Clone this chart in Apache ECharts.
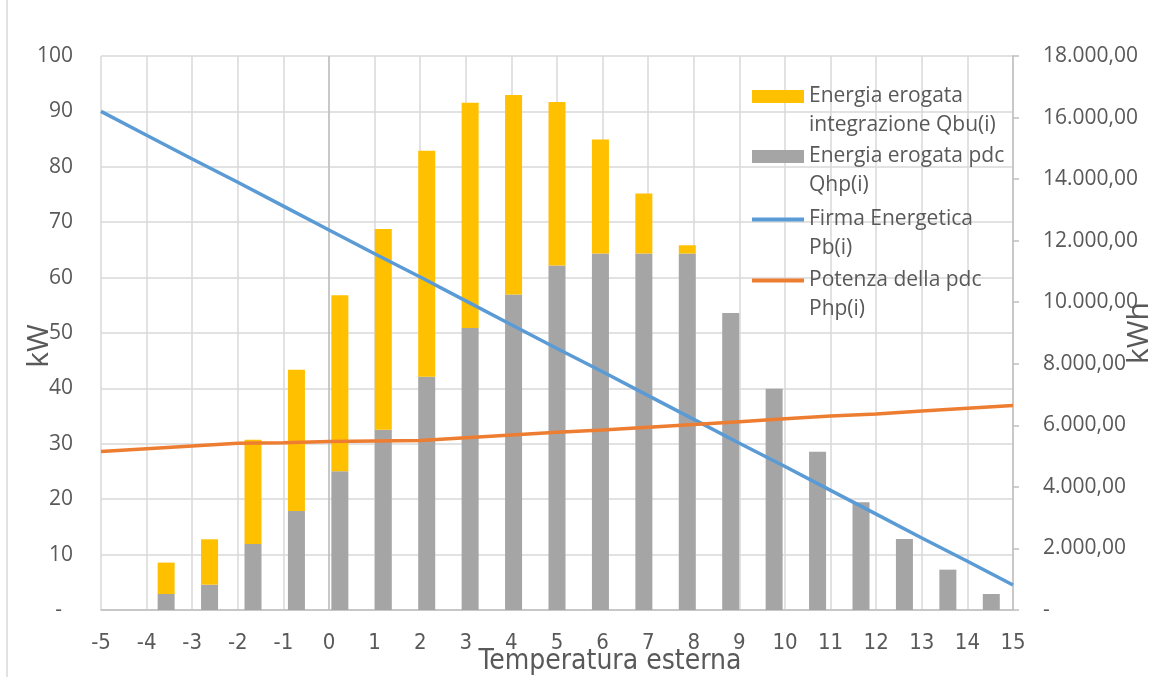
<!DOCTYPE html>
<html>
<head>
<meta charset="utf-8">
<script src="https://cdn.jsdelivr.net/npm/echarts@6/dist/echarts.min.js"></script>
<style>
  html, body { margin: 0; padding: 0; background: #fff; }
  #chart { width: 1156px; height: 677px; }
</style>
</head>
<body>
<div id="chart"></div>
<script>
// temperature axis (°C) for the two power lines
const temperatures = [-5, -4, -3, -2, -1, 0, 1, 2, 3, 4, 5, 6, 7, 8, 9, 10, 11, 12, 13, 14, 15];
// kW
const firmaEnergetica = [90, 85.7, 81.4, 77.2, 72.9, 68.6, 64.3, 60.1, 55.8, 51.5, 47.2, 43.0, 38.7, 34.4, 30.1, 25.9, 21.6, 17.3, 13.0, 8.8, 4.5];
const potenzaPdc = [28.6, 29.1, 29.6, 30.1, 30.2, 30.4, 30.5, 30.6, 31.1, 31.6, 32.1, 32.5, 33.0, 33.5, 34.0, 34.5, 35.0, 35.4, 35.9, 36.4, 36.9];

// energy bins (kWh), 21 bins over the same span
const bins = ['b0', 'b1', 'b2', 'b3', 'b4', 'b5', 'b6', 'b7', 'b8', 'b9', 'b10',
  'b11', 'b12', 'b13', 'b14', 'b15', 'b16', 'b17', 'b18', 'b19', 'b20'];
const energiaPdc = [0, 520, 823, 2147, 3220, 4509, 5856, 7580, 9162, 10248, 11191,
  11581, 11581, 11581, 9649, 7190, 5140, 3500, 2310, 1311, 520];
const energiaIntegrazione = [0, 1020, 1474, 3383, 4588, 5715, 6524, 7338, 7319, 6483, 5313,
  3709, 1952, 270, 0, 0, 0, 0, 0, 0, 0];

const NAME_QBU = 'Energia erogata\nintegrazione Qbu(i)';
const NAME_QHP = 'Energia erogata pdc\nQhp(i)';
const NAME_PB = 'Firma Energetica\nPb(i)';
const NAME_PHP = 'Potenza della pdc\nPhp(i)';

const txt = '#595959';
const font = 'Open Sans';
const narrow = "'Liberation Sans Narrow', 'DejaVu Sans Condensed', 'Open Sans', sans-serif";

function formatIt(v) {
  if (v === 0) return '-';
  const parts = v.toFixed(2).split('.');
  return parts[0].replace(/\B(?=(\d{3})+(?!\d))/g, '.') + ',' + parts[1];
}

function legendFor(name, top, h) {
  return {
    data: [name],
    left: 752,
    top: top,
    padding: 0,
    orient: 'vertical',
    itemWidth: 52,
    itemHeight: h,
    icon: 'rect',
    selectedMode: false,
    // leading empty line keeps the first text line level with the icon
    formatter: n => '\n' + n,
    textStyle: { fontFamily: font, fontSize: 21, color: txt, lineHeight: 29 }
  };
}

const chart = echarts.init(document.getElementById('chart'));

chart.setOption({
  animation: false,
  backgroundColor: '#fff',
  grid: { left: 101, right: 143, top: 56, bottom: 67, outerBoundsMode: 'none', containLabel: false },
  legend: [
    legendFor(NAME_QBU, 53, 13),
    legendFor(NAME_QHP, 113, 13),
    legendFor(NAME_PB, 176, 4),
    legendFor(NAME_PHP, 237, 4)
  ],
  xAxis: [
    {
      type: 'value', min: -5, max: 15, interval: 1,
      axisLine: { lineStyle: { color: '#bfbfbf', width: 1.5 } },
      axisTick: { show: false },
      axisLabel: { margin: 22, color: txt, fontFamily: narrow, fontSize: 22 },
      splitLine: { show: true, lineStyle: { color: '#d9d9d9', width: 1.5 } },
      name: 'Temperatura esterna', nameLocation: 'middle', nameGap: 38, nameMoveOverlap: false,
      nameTextStyle: { color: txt, fontFamily: narrow, fontSize: 28, padding: [0, 0, 0, 106] }
    },
    { type: 'category', data: bins, show: false, boundaryGap: true }
  ],
  yAxis: [
    {
      type: 'value', min: 0, max: 100, interval: 10,
      name: 'kW', nameLocation: 'middle', nameRotate: 90, nameGap: 47, nameMoveOverlap: false,
      nameTextStyle: { color: txt, fontFamily: font, fontSize: 30, padding: [0, 26, 0, 0] },
      axisLine: { show: false },
      axisTick: { show: false },
      axisLabel: {
        margin: 28, color: txt, fontFamily: font, fontSize: 21,
        formatter: v => (v === 0 ? '-  ' : String(v))
      },
      splitLine: { lineStyle: { color: '#d9d9d9', width: 1.5 } }
    },
    {
      type: 'value', min: 0, max: 18000, interval: 2000, position: 'right',
      name: 'kWh', nameLocation: 'middle', nameRotate: 90, nameGap: 111, nameMoveOverlap: false,
      nameTextStyle: { color: txt, fontFamily: font, fontSize: 30 },
      axisLine: { show: true, lineStyle: { color: '#bfbfbf', width: 1.5 } },
      axisTick: { show: true, length: 6, lineStyle: { color: '#bfbfbf', width: 1.5 } },
      axisLabel: { margin: 30, color: txt, fontFamily: font, fontSize: 21, formatter: formatIt },
      splitLine: { show: false }
    }
  ],
  series: [
    {
      name: NAME_QHP, type: 'bar', xAxisIndex: 1, yAxisIndex: 1, stack: 'energia',
      barWidth: 17, data: energiaPdc, itemStyle: { color: '#a5a5a5' }
    },
    {
      name: NAME_QBU, type: 'bar', xAxisIndex: 1, yAxisIndex: 1, stack: 'energia',
      barWidth: 17, data: energiaIntegrazione, itemStyle: { color: '#ffc000' }
    },
    {
      name: NAME_PB, type: 'line', xAxisIndex: 0, yAxisIndex: 0, symbol: 'none',
      data: temperatures.map((t, i) => [t, firmaEnergetica[i]]),
      itemStyle: { color: '#5b9bd5' },
      lineStyle: { color: '#5b9bd5', width: 3.5 },
      markLine: {
        z: 1, silent: true, symbol: 'none', label: { show: false },
        lineStyle: { color: '#bfbfbf', type: 'solid', width: 1.5 },
        data: [{ xAxis: 0 }]
      }
    },
    {
      name: NAME_PHP, type: 'line', xAxisIndex: 0, yAxisIndex: 0, symbol: 'none',
      data: temperatures.map((t, i) => [t, potenzaPdc[i]]),
      itemStyle: { color: '#ed7d31' },
      lineStyle: { color: '#ed7d31', width: 3.5 }
    }
  ],
  graphic: [
    {
      type: 'line', silent: true,
      shape: { x1: 7, y1: 0, x2: 7, y2: 677 },
      style: { stroke: '#d9d9d9', lineWidth: 1.5 }
    }
  ]
});
</script>
</body>
</html>
